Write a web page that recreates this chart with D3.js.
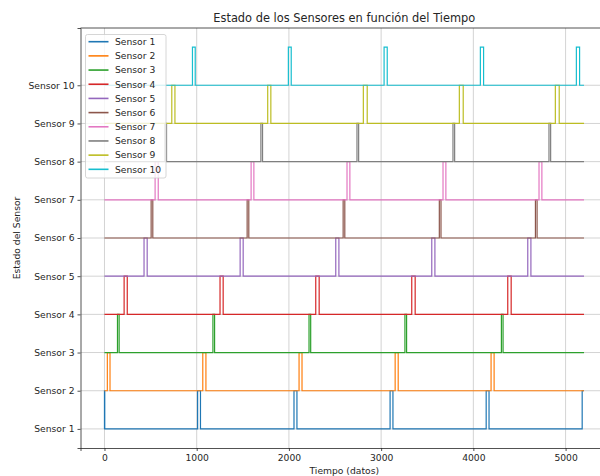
<!DOCTYPE html>
<html>
<head>
<meta charset="utf-8">
<script src="https://cdn.jsdelivr.net/npm/d3@7"></script>
<style>
  body { margin: 0; background: #fff; }
  svg text { font-family: "DejaVu Sans", sans-serif; fill: #262626; }
</style>
</head>
<body>
<svg id="chart" width="600" height="476"></svg>
<script>
// Data: pulses per sensor as [start, end] in samples
var tEnd = 5200;
var sensorNames = ["Sensor 1", "Sensor 2", "Sensor 3", "Sensor 4", "Sensor 5",
                   "Sensor 6", "Sensor 7", "Sensor 8", "Sensor 9", "Sensor 10"];
var sensor1  = [[0, 3], [1010, 1041], [2055, 2087], [3097, 3128], [4139, 4170], [5180, 5200]];
var sensor2  = [[31, 60], [1066, 1100], [2110, 2142], [3152, 3185], [4192, 4225]];
var sensor3  = [[141, 159], [1176, 1194], [2218, 2236], [3258, 3276], [4304, 4322]];
var sensor4  = [[213, 247], [1253, 1287], [2291, 2328], [3332, 3369], [4373, 4410]];
var sensor5  = [[429, 463], [1471, 1504], [2508, 2542], [3549, 3583], [4590, 4624]];
var sensor6  = [[506, 524], [1547, 1565], [2588, 2606], [3631, 3649], [4673, 4691]];
var sensor7  = [[549, 583], [1590, 1620], [2630, 2661], [3671, 3702], [4712, 4743]];
var sensor8  = [[655, 673], [1696, 1714], [2738, 2756], [3779, 3797], [4820, 4838]];
var sensor9  = [[730, 764], [1770, 1804], [2807, 2849], [3848, 3890], [4889, 4931]];
var sensor10 = [[954, 984], [1994, 2025], [3032, 3066], [4076, 4111], [5117, 5152]];
var sensorPulses = [sensor1, sensor2, sensor3, sensor4, sensor5,
                    sensor6, sensor7, sensor8, sensor9, sensor10];
var xTicks = [0, 1000, 2000, 3000, 4000, 5000];
var colors = ["#1f77b4", "#ff7f0e", "#2ca02c", "#d62728", "#9467bd",
              "#8c564b", "#e377c2", "#7f7f7f", "#bcbd22", "#17becf"];

var svg = d3.select("#chart");
var plotLeft = 80.5, plotRight = 608, plotTop = 28, plotBottom = 448;

var x = d3.scaleLinear().domain([-260, 5460]).range([plotLeft, plotRight]);
var y = d3.scaleLinear().domain([0.5, 11.5]).range([plotBottom, plotTop]);

svg.append("defs").append("clipPath").attr("id", "plot-area")
    .append("rect")
    .attr("x", plotLeft).attr("y", plotTop)
    .attr("width", plotRight - plotLeft).attr("height", plotBottom - plotTop);

// Grid
var grid = svg.append("g").attr("clip-path", "url(#plot-area)");
grid.selectAll("line.gx").data(xTicks).enter().append("line")
    .attr("x1", function(d) { return x(d); })
    .attr("x2", function(d) { return x(d); })
    .attr("y1", plotTop).attr("y2", plotBottom)
    .attr("stroke", "#b0b0b0").attr("stroke-opacity", 0.7).attr("stroke-width", 0.8);
grid.selectAll("line.gy").data(d3.range(1, 11)).enter().append("line")
    .attr("x1", plotLeft).attr("x2", plotRight)
    .attr("y1", function(d) { return y(d); })
    .attr("y2", function(d) { return y(d); })
    .attr("stroke", "#b0b0b0").attr("stroke-opacity", 0.7).attr("stroke-width", 0.8);

// Build step points for each sensor
function buildPoints(pulses, base) {
    var pts = [[0, base]];
    var level = base;
    pulses.forEach(function(p) {
        pts.push([p[0], base + 1]);
        level = base + 1;
        if (p[1] < tEnd) {
            pts.push([p[1], base]);
            level = base;
        }
    });
    pts.push([tEnd, level]);
    return pts;
}

var line = d3.line()
    .x(function(d) { return x(d[0]); })
    .y(function(d) { return y(d[1]); })
    .curve(d3.curveStepAfter);

var plot = svg.append("g").attr("clip-path", "url(#plot-area)");
sensorPulses.forEach(function(pulses, i) {
    plot.append("path")
        .datum(buildPoints(pulses, i + 1))
        .attr("d", line)
        .attr("fill", "none")
        .attr("stroke", colors[i])
        .attr("stroke-width", 1.2);
});

// Axes
var xAxis = svg.append("g").attr("transform", "translate(0," + plotBottom + ")")
    .call(d3.axisBottom(x).tickValues(xTicks).tickSize(3).tickPadding(3.5).tickFormat(d3.format("d")));
var yAxis = svg.append("g").attr("transform", "translate(" + plotLeft + ",0)")
    .call(d3.axisLeft(y).tickValues(d3.range(1, 11)).tickSize(3).tickPadding(3)
        .tickFormat(function(d) { return sensorNames[d - 1]; }));
[xAxis, yAxis].forEach(function(a) {
    a.select(".domain").attr("stroke", "#262626").attr("stroke-width", 0.8);
    a.selectAll(".tick line").attr("stroke", "#262626").attr("stroke-width", 0.8);
    a.selectAll(".tick text").attr("font-size", "9.2px")
        .attr("font-family", "DejaVu Sans").attr("fill", "#262626");
});
// top spine
svg.append("line").attr("x1", plotLeft).attr("x2", plotRight)
    .attr("y1", plotTop).attr("y2", plotTop)
    .attr("stroke", "#262626").attr("stroke-width", 0.8);

// Title and labels
svg.append("text").attr("x", (plotLeft + plotRight) / 2).attr("y", 22)
    .attr("text-anchor", "middle").attr("font-size", "11.4px")
    .text("Estado de los Sensores en función del Tiempo");
svg.append("text").attr("x", (plotLeft + plotRight) / 2).attr("y", 474)
    .attr("text-anchor", "middle").attr("font-size", "9.2px")
    .text("Tiempo (datos)");
svg.append("text")
    .attr("transform", "translate(20," + ((plotTop + plotBottom) / 2) + ") rotate(-90)")
    .attr("text-anchor", "middle").attr("font-size", "9.2px")
    .text("Estado del Sensor");

// Legend
var legend = svg.append("g");
legend.append("rect")
    .attr("x", 85.5).attr("y", 34.5).attr("width", 80.5).attr("height", 143.5)
    .attr("rx", 2).attr("fill", "#fff").attr("fill-opacity", 0.8)
    .attr("stroke", "#cccccc").attr("stroke-width", 0.8);
var items = legend.selectAll("g.item").data(sensorNames).enter().append("g")
    .attr("transform", function(d, i) { return "translate(0," + (41.7 + i * 14.18) + ")"; });
items.append("line").attr("x1", 88.5).attr("x2", 108.5)
    .attr("stroke", function(d, i) { return colors[i]; }).attr("stroke-width", 1.6);
items.append("text").attr("x", 115).attr("y", 3.3).attr("font-size", "9.2px")
    .text(function(d) { return d; });
</script>
</body>
</html>
